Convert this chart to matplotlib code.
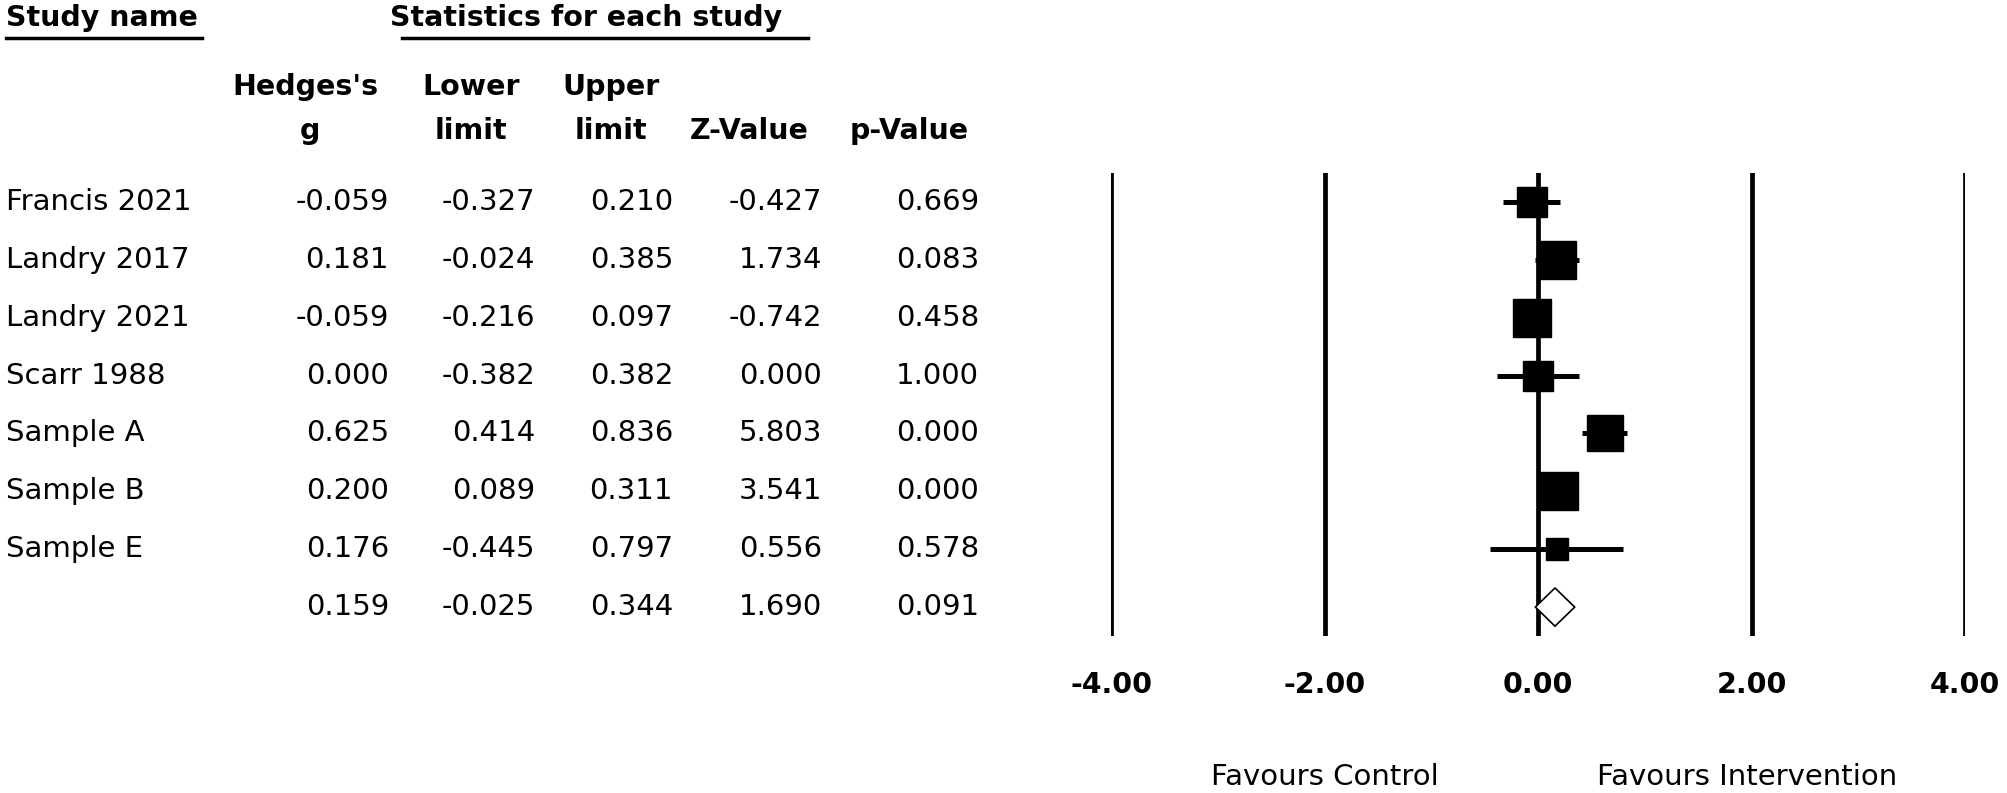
import numpy as np
import matplotlib
matplotlib.use('Agg')
import matplotlib.pyplot as plt
import matplotlib.transforms as mtransforms
from matplotlib.patches import Polygon

# donnees du forest plot
etudes = ["Francis 2021", "Landry 2017", "Landry 2021", "Scarr 1988",
          "Sample A", "Sample B", "Sample E"]
hedges_g = [-0.059, 0.181, -0.059, 0.000, 0.625, 0.200, 0.176]
borne_inf = [-0.327, -0.024, -0.216, -0.382, 0.414, 0.089, -0.445]
borne_sup = [0.210, 0.385, 0.097, 0.382, 0.836, 0.311, 0.797]
z_val = [-0.427, 1.734, -0.742, 0.000, 5.803, 3.541, 0.556]
p_val = [0.669, 0.083, 0.458, 1.000, 0.000, 0.000, 0.578]

# effet global
global_g = 0.159
global_inf = -0.025
global_sup = 0.344
global_z = 1.690
global_p = 0.091

ticks_x = [-4.0, -2.0, 0.0, 2.0, 4.0]

# taille des carres (poids relatif)
taille_carre = [22, 27, 27, 21, 26, 27, 16]

W, H = 2007, 793
fig = plt.figure(figsize=(W / 100, H / 100), dpi=100)
fig.patch.set_facecolor('white')

fs = 21
fsb = 20.5
police = 'DejaVu Sans'

n = len(etudes)
ax = fig.add_axes([1111 / W, 1 - 636 / H, (1965 - 1111) / W, (636 - 173) / H])
ax.set_xlim(-4, 4)
ax.set_ylim(n + 0.5, -0.5)
ax.axis('off')

# lignes verticales
for t in ticks_x:
    ax.axvline(t, color='black', lw=3.4, zorder=1)

# intervalles et carres
for i in range(n):
    ax.plot([borne_inf[i], borne_sup[i]], [i, i], color='black', lw=3.6,
            solid_capstyle='butt', zorder=2)
    ax.plot(hedges_g[i], i, marker='s', color='black', ms=taille_carre[i], zorder=3)

# losange global
h = 0.33
losange = Polygon([[global_inf, n], [global_g, n - h], [global_sup, n], [global_g, n + h]],
                  closed=True, facecolor='white', edgecolor='black', lw=1.2, zorder=4)
ax.add_patch(losange)

# graduations
for t in ticks_x:
    fig.text((1111 + (t + 4) / 8 * (1965 - 1111)) / W, 1 - 685 / H, "%.2f" % t,
             ha='center', va='center', fontsize=fsb, fontweight='bold', family=police)

fig.text(1325 / W, 1 - 777 / H, "Favours Control", ha='center', va='center',
         fontsize=fs, family=police)
fig.text(1747 / W, 1 - 777 / H, "Favours Intervention", ha='center', va='center',
         fontsize=fs, family=police)

# tableau a gauche
trans = mtransforms.blended_transform_factory(fig.transFigure, ax.transData)
cols_x = [389, 535, 673, 822, 979]

for i in range(n):
    fig.text(6 / W, i, etudes[i], transform=trans, ha='left', va='center',
             fontsize=fs, family=police)
    valeurs = [hedges_g[i], borne_inf[i], borne_sup[i], z_val[i], p_val[i]]
    for x, v in zip(cols_x, valeurs):
        fig.text(x / W, i, "%.3f" % v, transform=trans, ha='right', va='center',
                 fontsize=fs, family=police)

valeurs = [global_g, global_inf, global_sup, global_z, global_p]
for x, v in zip(cols_x, valeurs):
    fig.text(x / W, n, "%.3f" % v, transform=trans, ha='right', va='center',
             fontsize=fs, family=police)

# en-tetes
fig.text(6 / W, 1 - 18 / H, "Study name", ha='left', va='center',
         fontsize=fsb, fontweight='bold', family=police)
fig.text(390 / W, 1 - 18 / H, "Statistics for each study", ha='left', va='center',
         fontsize=fsb, fontweight='bold', family=police)
fig.add_artist(plt.Line2D([6 / W, 202 / W], [1 - 38 / H, 1 - 38 / H], color='black', lw=2.5))
fig.add_artist(plt.Line2D([402 / W, 808 / W], [1 - 38 / H, 1 - 38 / H], color='black', lw=2.5))

entetes_1 = [("Hedges's", 305), ("Lower", 471), ("Upper", 611)]
entetes_2 = [("g", 310), ("limit", 471), ("limit", 611), ("Z-Value", 749), ("p-Value", 909)]
for txt, x in entetes_1:
    fig.text(x / W, 1 - 87 / H, txt, ha='center', va='center',
             fontsize=fsb, fontweight='bold', family=police)
for txt, x in entetes_2:
    fig.text(x / W, 1 - 131 / H, txt, ha='center', va='center',
             fontsize=fsb, fontweight='bold', family=police)

fig.savefig('out.png', dpi=100, facecolor='white')
